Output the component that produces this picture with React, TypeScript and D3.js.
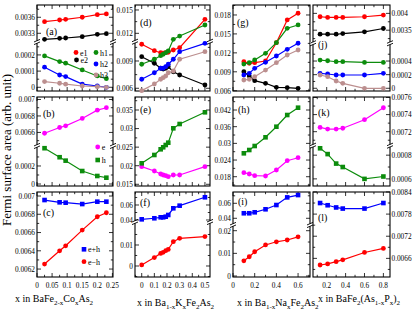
import { useEffect, useRef } from 'react';
import * as d3 from 'd3';

const RED = '#ff0000';
const BLACK = '#000000';
const GREEN = '#0c8c0c';
const BLUE = '#0000ff';
const BROWN = '#bc8f8f';
const MAGENTA = '#ff00ff';

// doping levels of the four compounds
const xCo = [0.025, 0.075, 0.095, 0.15, 0.2, 0.23];
const xK = [0, 0.1, 0.15, 0.17, 0.19, 0.21, 0.25, 0.3, 0.5];
const xNa = [0.1, 0.15, 0.2, 0.3, 0.4, 0.5, 0.6];
const xP = [0.13, 0.21, 0.3, 0.37, 0.6, 0.8];

// Co doped
const coE1 = [0.003517, 0.003549, 0.003562, 0.0036, 0.003649, 0.003662];
const coE2 = [0.003187, 0.003206, 0.003212, 0.003236, 0.003281, 0.003292];
const coH1 = [0.000194, 0.000159, 0.000149, 0.000107, 0.00007, 0.000053];
const coH2 = [0.000124, 0.000076, 0.000066, 0.00002, 0.000008, 0];
const coH3 = [0.000035, 0.000025, 0.000019, 0.000008, 0.000004, 0];
const coE = [0.00659, 0.00666, 0.00668, 0.00677, 0.00687, 0.0069];
const coH = [0.000397, 0.000297, 0.000259, 0.000144, 0.000089, 0.00007];
const coSum = [0.006956, 0.006931, 0.006927, 0.006912, 0.006938, 0.006938];
const coDiff = [0.006255, 0.0064, 0.006455, 0.006627, 0.006773, 0.006817];

// K doped
const kE1 = [0.01084, 0.01013, 0.00991, 0.00985, 0.00991, 0.00996, 0.01021, 0.01046, 0.0138];
const kE2 = [0.00947, 0.00875, 0.0082, 0.00812, 0.0082, 0.00837, 0.00782, 0.00746, 0.00636];
const kH1 = [0.00864, 0.00919, 0.00958, 0.00974, 0.00991, 0.0101, 0.01123, 0.01165, 0.01307];
const kH2 = [0.00699, 0.00771, 0.0082, 0.0082, 0.00837, 0.00864, 0.00919, 0.01002, 0.01094];
const kH3 = [0.00574, 0.00647, 0.00699, 0.00717, 0.00735, 0.00771, 0.0079, 0.00919, 0.01002];
const kE = [0.01974, 0.01858, 0.01777, 0.0175, 0.01731, 0.01705, 0.0175, 0.0175, 0.01974];
const kH = [0.02065, 0.02289, 0.02442, 0.02496, 0.02558, 0.0262, 0.03007, 0.03123, 0.03438];
const kSum = [0.0409, 0.0423, 0.0436, 0.0436, 0.0444, 0.0467, 0.0556, 0.0591, 0.0703];
const kDiff = [0.0005, 0.004, 0.006, 0.0065, 0.0073, 0.0079, 0.0116, 0.0132, 0.014];

// Na doped
const naE1 = [0.0106, 0.01035, 0.01044, 0.01071, 0.01361, 0.01721, 0.01827];
const naE2 = [0.00901, 0.00833, 0.00759, 0.00718, 0.00654, 0.00648, 0.00638];
const naH1 = [0.01023, 0.01044, 0.01087, 0.01193, 0.01361, 0.01589, 0.01642];
const naH2 = [0.00849, 0.00876, 0.00955, 0.0105, 0.0115, 0.01256, 0.01352];
const naH3 = [0.0077, 0.00781, 0.00822, 0.00928, 0.01044, 0.01166, 0.01245];
const naE = [0.01945, 0.01898, 0.01837, 0.01826, 0.02042, 0.02376, 0.02484];
const naH = [0.02642, 0.02761, 0.02905, 0.03218, 0.03599, 0.0402, 0.04283];
const naSum = [0.0467, 0.0467, 0.048, 0.052, 0.0577, 0.0679, 0.071];
const naDiff = [0.0067, 0.0085, 0.0107, 0.0137, 0.0151, 0.0159, 0.0173];

// P doped
const pE1 = [0.0039, 0.00388, 0.00388, 0.00388, 0.0039, 0.00395];
const pE2 = [0.00338, 0.00338, 0.00338, 0.0034, 0.00345, 0.00355];
const pH1 = [0.000414, 0.000404, 0.00039, 0.00039, 0.00038, 0.00038];
const pH2 = [0.00022, 0.00021, 0.000195, 0.000195, 0.000195, 0.00022];
const pH3 = [0.000195, 0.00017, 0.000107, 0.000073, 0, 0];
const pE = [0.00725, 0.00723, 0.00723, 0.00724, 0.00734, 0.00748];
const pH = [0.000858, 0.000809, 0.000729, 0.0007, 0.0006, 0.00062];
const pSum = [0.0081, 0.00804, 0.00798, 0.00795, 0.00795, 0.0081];
const pDiff = [0.00642, 0.00645, 0.00651, 0.00656, 0.00676, 0.00687];

// x tick labels of each column
const xTicks = [
  [0, 0.05, 0.1, 0.15, 0.2, 0.25],
  [0, 0.1, 0.2, 0.3, 0.4, 0.5],
  [0, 0.2, 0.4, 0.6],
  [0.2, 0.4, 0.6, 0.8],
];

type Shape = 'circle' | 'square';
type Series = { name: string; values: number[]; color: string; shape: Shape };
type Segment = { domain: [number, number]; ticks: number[] };
type Panel = {
  tag: string;
  col: number;
  row: number;
  xs: number[];
  lower: Segment;
  upper?: Segment;
  breakAt?: number;
  series: Series[];
  tagAt: [number, number];
  legend?: [number, number][];
};

const colBox = [
  { l: 37, r: 113 },
  { l: 135, r: 210 },
  { l: 233, r: 310 },
  { l: 313, r: 390 },
];
const rowBox = [
  { t: 5, b: 91 },
  { t: 97, b: 186 },
  { t: 192, b: 277 },
];
const xDomains: [number, number][] = [
  [0, 0.252],
  [-0.053, 0.54],
  [0, 0.71],
  [0.055, 0.87],
];

const five = (e1: number[], e2: number[], h1: number[], h2: number[], h3: number[]): Series[] => [
  { name: 'e1', values: e1, color: RED, shape: 'circle' },
  { name: 'e2', values: e2, color: BLACK, shape: 'circle' },
  { name: 'h1', values: h1, color: GREEN, shape: 'circle' },
  { name: 'h2', values: h2, color: BLUE, shape: 'circle' },
  { name: 'h3', values: h3, color: BROWN, shape: 'circle' },
];
const eh = (e: number[], h: number[]): Series[] => [
  { name: 'e', values: e, color: MAGENTA, shape: 'circle' },
  { name: 'h', values: h, color: GREEN, shape: 'square' },
];
const sd = (s: number[], d: number[]): Series[] => [
  { name: 'e+h', values: s, color: BLUE, shape: 'square' },
  { name: 'e\u2212h', values: d, color: RED, shape: 'circle' },
];

const panels: Panel[] = [
  {
    tag: '(a)', col: 0, row: 0, xs: xCo, breakAt: 0.43,
    lower: { domain: [-0.000023, 0.00028], ticks: [0, 0.0001, 0.0002] },
    upper: { domain: [0.003137, 0.00383], ticks: [0.0033, 0.0036] },
    series: five(coE1, coE2, coH1, coH2, coH3), tagAt: [46, 35],
    legend: [[76, 52.5], [76.5, 60], [96, 52.5], [96, 64], [96, 75]],
  },
  {
    tag: '(b)', col: 0, row: 1, xs: xCo, breakAt: 0.55,
    lower: { domain: [-0.000022, 0.000422], ticks: [0, 0.0002] },
    upper: { domain: [0.006436, 0.00703], ticks: [0.0066, 0.0068, 0.007] },
    series: eh(coE, coH), tagAt: [43, 117], legend: [[97.7, 147], [97.7, 160]],
  },
  {
    tag: '(c)', col: 0, row: 2, xs: xCo,
    lower: { domain: [0.006113, 0.007044], ticks: [0.0062, 0.0064, 0.0066, 0.0068, 0.007] },
    series: sd(coSum, coDiff), tagAt: [43, 216], legend: [[84, 249.3], [84, 261.7]],
  },
  {
    tag: '(d)', col: 1, row: 0, xs: xK, breakAt: 0.427,
    lower: { domain: [0.0057, 0.01112], ticks: [0.006, 0.009] },
    upper: { domain: [0.01092, 0.01564], ticks: [0.012, 0.015] },
    series: five(kE1, kE2, kH1, kH2, kH3), tagAt: [140, 26],
  },
  {
    tag: '(e)', col: 1, row: 1, xs: xK,
    lower: { domain: [0.01454, 0.0385], ticks: [0.015, 0.02, 0.025, 0.03, 0.035] },
    series: eh(kE, kH), tagAt: [140, 113],
  },
  {
    tag: '(f)', col: 1, row: 2, xs: xK, breakAt: 0.353,
    lower: { domain: [-0.00524, 0.02095], ticks: [0, 0.01] },
    upper: { domain: [0.03733, 0.07733], ticks: [0.04, 0.06] },
    series: sd(kSum, kDiff), tagAt: [140, 206],
  },
  {
    tag: '(g)', col: 2, row: 0, xs: xNa,
    lower: { domain: [0.00596, 0.01958], ticks: [0.006, 0.009, 0.012, 0.015, 0.018] },
    series: five(naE1, naE2, naH1, naH2, naH3), tagAt: [237, 26],
  },
  {
    tag: '(h)', col: 2, row: 1, xs: xNa,
    lower: { domain: [0.01466, 0.04668], ticks: [0.018, 0.024, 0.03, 0.036, 0.042] },
    series: eh(naE, naH), tagAt: [238, 113],
  },
  {
    tag: '(i)', col: 2, row: 2, xs: xNa, breakAt: 0.388,
    lower: { domain: [-0.00044, 0.02252], ticks: [0, 0.01, 0.02] },
    upper: { domain: [0.03107, 0.07507], ticks: [0.04, 0.06] },
    series: sd(naSum, naDiff), tagAt: [238, 205],
  },
  {
    tag: '(j)', col: 3, row: 0, xs: xP, breakAt: 0.445,
    lower: { domain: [-0.00004, 0.000661], ticks: [0, 0.0002, 0.0004] },
    upper: { domain: [0.003111, 0.004249], ticks: [0.0035, 0.004] },
    series: five(pE1, pE2, pH1, pH2, pH3), tagAt: [318, 48],
  },
  {
    tag: '(k)', col: 3, row: 1, xs: xP, breakAt: 0.547,
    lower: { domain: [0.00054, 0.00088], ticks: [0.0006, 0.0008] },
    upper: { domain: [0.007036, 0.007606], ticks: [0.0072, 0.0074, 0.0076] },
    series: eh(pE, pH), tagAt: [318, 116],
  },
  {
    tag: '(l)', col: 3, row: 2, xs: xP,
    lower: { domain: [0.006095, 0.008399], ticks: [0.0066, 0.0072, 0.0078, 0.0084] },
    series: sd(pSum, pDiff), tagAt: [318, 221],
  },
];

// axis titles: [text, subscript?]
const xTitles: [string, boolean][][] = [
  [['x in BaFe', false], ['2-x', true], ['Co', false], ['x', true], ['As', false], ['2', true]],
  [['x in Ba', false], ['1-x', true], ['K', false], ['x', true], ['Fe', false], ['2', true], ['As', false], ['2', true]],
  [['x in Ba', false], ['1-x', true], ['Na', false], ['x', true], ['Fe', false], ['2', true], ['As', false], ['2', true]],
  [['x in BaFe', false], ['2', true], ['(As', false], ['1-x', true], ['P', false], ['x', true], [')', false], ['2', true]],
];
const xTitleAt: [number, number][] = [[15, 302], [137, 306], [237, 306], [318, 302]];

const FONT = "'Liberation Serif', 'Times New Roman', serif";

const halfSteps = (domain: [number, number], ticks: number[]) => {
  const step = (ticks[1] - ticks[0]) / 2;
  const out: number[] = [];
  const k0 = Math.ceil((domain[0] - ticks[0]) / step - 1e-6);
  const k1 = Math.floor((domain[1] - ticks[0]) / step + 1e-6);
  for (let k = k0; k <= k1; k++) {
    if (Math.abs(k % 2) === 1) out.push(+(ticks[0] + k * step).toFixed(9));
  }
  return out;
};

const marker = (g: any, shape: Shape, cx: number, cy: number, color: string) => {
  if (shape === 'circle') {
    g.append('circle').attr('cx', cx).attr('cy', cy).attr('r', 2.4).attr('fill', color);
  } else {
    g.append('rect').attr('x', cx - 2.3).attr('y', cy - 2.3).attr('width', 4.6).attr('height', 4.6).attr('fill', color);
  }
};

// narrow tick label, as in the original figure
const tickText = (g: any, tx: number, ty: number, anchor: string, s: string) => {
  g.append('text')
    .attr('transform', `translate(${tx},${ty}) scale(0.86,1)`)
    .attr('text-anchor', anchor)
    .attr('font-family', FONT).attr('font-size', 8.5)
    .text(s);
};

const drawBreak = (g: any, x: number, y: number) => {
  g.append('rect').attr('x', x - 3).attr('y', y - 1.2).attr('width', 6).attr('height', 2.4).attr('fill', '#fff');
  [-1.3, 1.3].forEach((d) => {
    g.append('line')
      .attr('x1', x - 3).attr('y1', y + d + 1.3)
      .attr('x2', x + 3).attr('y2', y + d - 1.3)
      .attr('stroke', '#000').attr('stroke-width', 0.9);
  });
};

const drawPanel = (svg: any, p: Panel) => {
  const { l, r } = colBox[p.col];
  const { t, b } = rowBox[p.row];
  const x = d3.scaleLinear().domain(xDomains[p.col]).range([l, r]);
  const yb = p.upper && p.breakAt ? t + (b - t) * p.breakAt : t;
  const yLow = d3.scaleLinear().domain(p.lower.domain).range([b, yb]);
  const yUp = p.upper ? d3.scaleLinear().domain(p.upper.domain).range([yb, t]) : null;
  const y = (v: number) => (yUp && v > p.lower.domain[1] ? yUp(v) : yLow(v));
  const right = p.col === 3;

  const g = svg.append('g');
  g.append('rect')
    .attr('x', l).attr('y', t).attr('width', r - l).attr('height', b - t)
    .attr('fill', 'none').attr('stroke', '#000').attr('stroke-width', 1.1);

  // x ticks, top and bottom
  const xt = xTicks[p.col];
  const xMinor = halfSteps(xDomains[p.col], xt);
  const xMajor = xt.filter((v) => v >= xDomains[p.col][0] && v <= xDomains[p.col][1]);
  [...xMajor.map((v) => [v, 4]), ...xMinor.map((v) => [v, 2.2])].forEach(([v, len]) => {
    const px = x(v);
    g.append('line').attr('x1', px).attr('x2', px).attr('y1', b).attr('y2', b - len).attr('stroke', '#000').attr('stroke-width', 0.8);
    g.append('line').attr('x1', px).attr('x2', px).attr('y1', t).attr('y2', t + len).attr('stroke', '#000').attr('stroke-width', 0.8);
  });
  if (p.row === 2) {
    xMajor.forEach((v) => tickText(g, x(v), b + 10.5, 'middle', String(v)));
  }

  // y ticks per segment
  const segs: [Segment, d3.ScaleLinear<number, number>][] = [[p.lower, yLow]];
  if (p.upper && yUp) segs.push([p.upper, yUp]);
  segs.forEach(([seg, sc]) => {
    const minor = halfSteps(seg.domain, seg.ticks);
    [...seg.ticks.map((v) => [v, 4]), ...minor.map((v) => [v, 2.2])].forEach(([v, len]) => {
      const py = sc(v);
      g.append('line').attr('x1', l).attr('x2', l + len).attr('y1', py).attr('y2', py).attr('stroke', '#000').attr('stroke-width', 0.8);
      g.append('line').attr('x1', r).attr('x2', r - len).attr('y1', py).attr('y2', py).attr('stroke', '#000').attr('stroke-width', 0.8);
    });
    seg.ticks.forEach((v) => {
      tickText(g, right ? r + 1.5 : l - 2, sc(v) + 2.9, right ? 'start' : 'end', String(v));
    });
  });

  if (p.upper) {
    drawBreak(g, l, yb);
    drawBreak(g, r, yb);
  }

  // series
  const line = d3.line<number>().x((_, i) => x(p.xs[i])).y((v) => y(v));
  p.series.forEach((s) => {
    g.append('path').attr('d', line(s.values)).attr('fill', 'none').attr('stroke', s.color).attr('stroke-width', 1.2);
    s.values.forEach((v, i) => marker(g, s.shape, x(p.xs[i]), y(v), s.color));
  });

  g.append('text').attr('x', p.tagAt[0]).attr('y', p.tagAt[1])
    .attr('font-family', FONT).attr('font-size', 10).text(p.tag);

  if (p.legend) {
    p.legend.forEach(([lx, ly], i) => {
      const s = p.series[i];
      marker(g, s.shape, lx, ly, s.color);
      g.append('text').attr('x', lx + 4).attr('y', ly + 3)
        .attr('font-family', FONT).attr('font-size', 8).text(s.name);
    });
  }
};

const App = () => {
  const ref = useRef<SVGSVGElement>(null);

  useEffect(() => {
    const svg = d3.select(ref.current);
    svg.selectAll('*').remove();

    panels.forEach((p) => drawPanel(svg, p));

    xTitles.forEach((parts, c) => {
      const txt = svg.append('text').attr('x', xTitleAt[c][0]).attr('y', xTitleAt[c][1])
        .attr('font-family', FONT).attr('font-size', 10);
      let low = false;
      parts.forEach(([s, sub]) => {
        const dy = sub === low ? 0 : sub ? 2.5 : -2.5;
        low = sub;
        txt.append('tspan').attr('dy', dy).attr('font-size', sub ? 7 : 10).text(s);
      });
    });

    svg.append('text')
      .attr('transform', 'translate(11,150) rotate(-90)')
      .attr('text-anchor', 'middle')
      .attr('font-family', FONT).attr('font-size', 13)
      .text('Fermi surface area (arb. unit)');
  }, []);

  return (
    <svg
      ref={ref}
      width={415}
      height={313}
      style={{ position: 'absolute', left: 0, top: 0, background: '#fff' }}
    />
  );
};

export default App;
